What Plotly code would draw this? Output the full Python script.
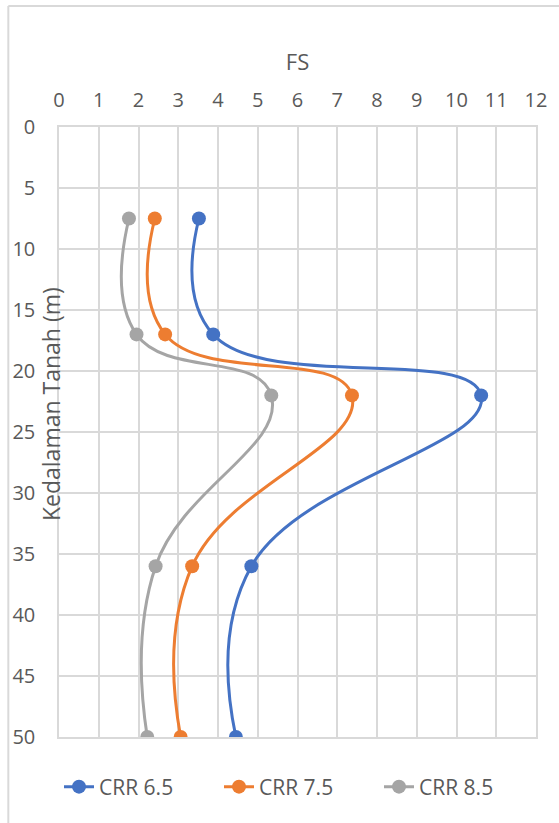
import plotly.graph_objects as go

depth = [7.5, 17, 22, 36, 50]
fs_crr65 = [3.52, 3.88, 10.62, 4.84, 4.45]
fs_crr75 = [2.41, 2.67, 7.37, 3.35, 3.06]
fs_crr85 = [1.76, 1.95, 5.34, 2.43, 2.22]
names = ["CRR 6.5", "CRR 7.5", "CRR 8.5"]
colors = ["#4472C4", "#ED7D31", "#A5A5A5"]
x_ticks = list(range(0, 13))
y_ticks = list(range(0, 51, 5))

FONT = "Open Sans"
TXT = "#595959"
GRID = "#D9D9D9"

fig = go.Figure()
for name, vals, col in zip(names, [fs_crr65, fs_crr75, fs_crr85], colors):
    fig.add_trace(go.Scatter(
        x=vals, y=depth, name=name, mode="lines+markers",
        line=dict(color=col, width=3, shape="spline", smoothing=1.3),
        marker=dict(color=col, size=14),
    ))

fig.update_layout(
    width=559, height=823,
    margin=dict(l=57, r=22, t=127, b=86),
    paper_bgcolor="white", plot_bgcolor="white",
    font=dict(family=FONT, size=19, color=TXT),
    showlegend=True,
    legend=dict(orientation="h", x=0.0, xanchor="left", y=-0.082, yanchor="middle",
                font=dict(size=21, color=TXT), entrywidth=115, entrywidthmode="pixels",
                tracegroupgap=0),
    xaxis=dict(side="top", range=[0, 12], tickvals=x_ticks, ticktext=[str(v) for v in x_ticks],
               showgrid=True, gridcolor=GRID, gridwidth=1.5, zeroline=False,
               showline=True, linecolor=GRID, linewidth=1.5, mirror=True,
               ticks="", ticklabelstandoff=10, tickfont=dict(size=20),
               title=dict(text="FS", font=dict(size=22, color=TXT), standoff=10)),
    yaxis=dict(range=[50, 0], tickvals=y_ticks, ticktext=[str(v) for v in y_ticks],
               showgrid=True, gridcolor=GRID, gridwidth=1.5, zeroline=False,
               showline=True, linecolor=GRID, linewidth=1.5, mirror=True,
               ticks="", ticklabelstandoff=18, tickfont=dict(size=20)),
)

fig.add_annotation(text="Kedalaman Tanah (m)", xref="paper", yref="paper",
                   x=(49 - 57) / 480, y=(737 - 404) / 610, textangle=-90,
                   showarrow=False, xanchor="center", yanchor="middle",
                   font=dict(family=FONT, size=23, color=TXT))

# chart area border (top and left edges visible)
fig.add_shape(type="line", xref="paper", yref="paper",
              x0=(6 - 57) / 480, x1=(570 - 57) / 480, y0=(737 - 6) / 610, y1=(737 - 6) / 610,
              line=dict(color=GRID, width=2))
fig.add_shape(type="line", xref="paper", yref="paper",
              x0=(6 - 57) / 480, x1=(6 - 57) / 480, y0=(737 - 6) / 610, y1=(737 - 830) / 610,
              line=dict(color=GRID, width=2))

fig.write_html("out.html")
